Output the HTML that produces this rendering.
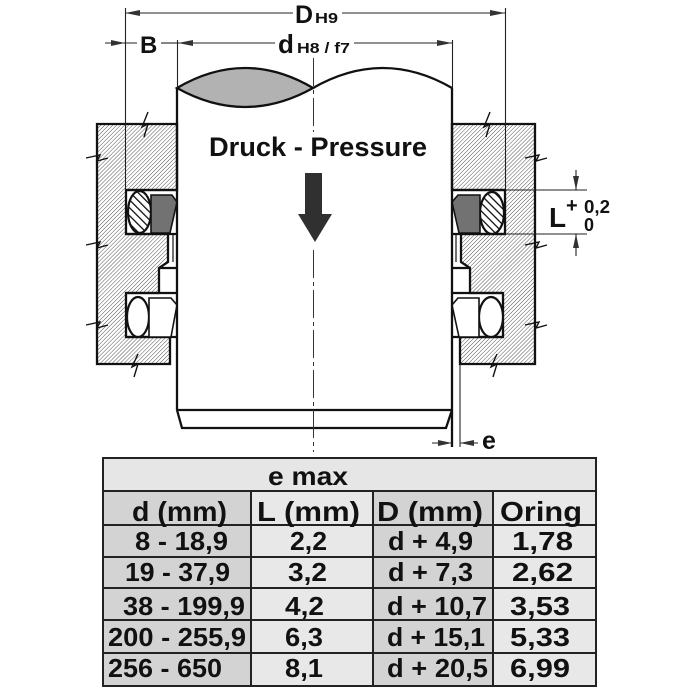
<!DOCTYPE html>
<html><head><meta charset="utf-8"><style>
html,body{margin:0;padding:0;background:#fff;}
svg{display:block;}
text{font-family:"Liberation Sans",Arial,sans-serif;font-weight:bold;fill:#111;}
</style></head><body>
<svg width="700" height="700" viewBox="0 0 700 700" xmlns="http://www.w3.org/2000/svg">
<defs>
<pattern id="hatch" patternUnits="userSpaceOnUse" width="2.8" height="2.8" patternTransform="rotate(45)">
<rect width="2.8" height="2.8" fill="#fff"/><line x1="0" y1="0" x2="0" y2="2.8" stroke="#2a2a2a" stroke-width="0.8"/></pattern>
<pattern id="ring" patternUnits="userSpaceOnUse" width="5.6" height="5.6" patternTransform="rotate(-45)">
<rect width="5.6" height="5.6" fill="#fff"/><line x1="0" y1="0" x2="0" y2="5.6" stroke="#111" stroke-width="2.6"/></pattern>
</defs>
<rect width="700" height="700" fill="#fff"/>

<!-- housings -->
<polygon points="97,124 177,124 177,190 126,190 126,234 168,234 168,262 159,268 159,293 126,293 126,337 170,337 170,364 97,364" fill="url(#hatch)" stroke="#111" stroke-width="2.3"/>
<polygon points="452,124 535,124 535,364 460,364 460,337 503,337 503,293 470,293 470,268 461,262 461,234 505,234 505,190 452,190" fill="url(#hatch)" stroke="#111" stroke-width="2.3"/>

<g stroke="#111" stroke-width="2.3" fill="none">
<line x1="126" y1="190" x2="177" y2="190"/><line x1="126" y1="234" x2="177" y2="234"/>
<line x1="126" y1="293" x2="177" y2="293"/><line x1="126" y1="337" x2="177" y2="337"/>
<line x1="159" y1="268" x2="177" y2="268"/>
<line x1="452" y1="190" x2="505" y2="190"/><line x1="452" y1="234" x2="505" y2="234"/>
<line x1="452" y1="293" x2="503" y2="293"/><line x1="452" y1="337" x2="503" y2="337"/>
<line x1="452" y1="268" x2="470" y2="268"/>
</g>
<line x1="173" y1="234" x2="173" y2="262" stroke="#111" stroke-width="1.2"/>
<line x1="456" y1="234" x2="456" y2="262" stroke="#111" stroke-width="1.2"/>

<!-- seals -->
<ellipse cx="139.5" cy="212" rx="11.5" ry="21" fill="url(#ring)" stroke="#111" stroke-width="2.2"/>
<polygon points="151,195 172,195 177,202 170,233 151,233" fill="#727272" stroke="#111" stroke-width="1.6"/>
<ellipse cx="138" cy="317" rx="11" ry="20" fill="#fff" stroke="#111" stroke-width="2.2"/>
<polygon points="149,298 171,298 177,305 171,337 149,337" fill="#fff" stroke="#111" stroke-width="1.6"/>

<ellipse cx="492" cy="213" rx="12" ry="21" fill="url(#ring)" stroke="#111" stroke-width="2.2"/>
<polygon points="480,195 458,195 452,202 459,233 480,233" fill="#727272" stroke="#111" stroke-width="1.6"/>
<ellipse cx="491" cy="317" rx="12" ry="20" fill="#fff" stroke="#111" stroke-width="2.2"/>
<polygon points="479,298 458,298 452,305 459,337 479,337" fill="#fff" stroke="#111" stroke-width="1.6"/>

<!-- D extension lines -->
<line x1="125.5" y1="8" x2="125.5" y2="190" stroke="#222" stroke-width="1.1"/>
<line x1="505.5" y1="8" x2="505.5" y2="190" stroke="#222" stroke-width="1.1"/>

<!-- break marks -->
<g stroke="#111" stroke-width="1.4" fill="none">
<path d="M148,112 L142,127 L148,124 L144,137"/>
<path d="M490,112 L484,127 L490,124 L486,137"/>
<path d="M86,158 L100,155 L97,161 L108,158"/>
<path d="M86,245 L100,242 L97,248 L108,245"/>
<path d="M86,325 L100,322 L97,328 L108,325"/>
<path d="M525,158 L539,155 L536,161 L547,158"/>
<path d="M525,245 L539,242 L536,248 L547,245"/>
<path d="M525,325 L539,322 L536,328 L547,325"/>
<path d="M138,354 L132,367 L138,364 L134,377"/>
<path d="M497,354 L491,367 L497,364 L493,377"/>
</g>

<!-- shaft -->
<path d="M177,88 Q245,48 313,88 Q245,126 177,88 Z" fill="#b2b2b2" stroke="#111" stroke-width="2.3"/>
<path d="M313,88 Q383,48 452,88" fill="none" stroke="#111" stroke-width="2.3"/>
<line x1="177" y1="88" x2="177" y2="410" stroke="#111" stroke-width="2.3"/>
<line x1="452" y1="88" x2="452" y2="447" stroke="#111" stroke-width="2.3"/>
<line x1="177" y1="410" x2="452" y2="410" stroke="#111" stroke-width="2.3"/>
<polyline points="177,410 182,428 446,428 452,410" fill="none" stroke="#111" stroke-width="2.3"/>

<!-- centerline -->
<line x1="313.5" y1="58" x2="313.5" y2="132" stroke="#333" stroke-width="1" stroke-dasharray="28 4 4 4"/>
<line x1="313.5" y1="250" x2="313.5" y2="452" stroke="#333" stroke-width="1" stroke-dasharray="28 4 4 4"/>

<!-- pressure -->
<text x="209" y="156" font-size="27" textLength="218" lengthAdjust="spacingAndGlyphs">Druck - Pressure</text>
<rect x="305" y="173" width="17" height="42" fill="#303030"/>
<polygon points="298,214 332,214 315,242" fill="#303030"/>

<!-- dimensions -->
<g stroke="#222" stroke-width="1.1">
<line x1="125" y1="13" x2="293" y2="13"/><line x1="342" y1="13" x2="505" y2="13"/>
<line x1="177" y1="43" x2="275" y2="43"/><line x1="354" y1="43" x2="452" y2="43"/>
<line x1="177.5" y1="40" x2="177.5" y2="88"/><line x1="452.5" y1="40" x2="452.5" y2="88"/>
<line x1="105" y1="43" x2="137" y2="43"/><line x1="161" y1="43" x2="177" y2="43"/>
<line x1="505" y1="190" x2="587" y2="190"/><line x1="505" y1="234" x2="587" y2="234"/>
<line x1="576" y1="170" x2="576" y2="190"/><line x1="576" y1="234" x2="576" y2="256"/>
<line x1="460" y1="364" x2="460" y2="447"/>
<line x1="432" y1="443" x2="452" y2="443"/><line x1="460" y1="443" x2="478" y2="443"/>
</g>
<g fill="#333">
<polygon points="125,13 140,10 140,16"/>
<polygon points="505,13 490,10 490,16"/>
<polygon points="178,43 193,40 193,46"/>
<polygon points="452,43 437,40 437,46"/>
<polygon points="125,43 111,40 111,46"/>
<polygon points="576,190 573,176 579,176"/>
<polygon points="576,234 573,248 579,248"/>
<polygon points="452,443 438,440 438,446"/>
<polygon points="460,443 474,440 474,446"/>
</g>
<text x="295" y="23" font-size="25">D</text>
<text x="315" y="23" font-size="15" textLength="23" lengthAdjust="spacingAndGlyphs">H9</text>
<text x="278" y="53" font-size="26">d</text>
<text x="297" y="53" font-size="15" textLength="53" lengthAdjust="spacingAndGlyphs">H8 / f7</text>
<text x="140" y="53" font-size="24">B</text>
<text x="549" y="227" font-size="28">L</text>
<text x="566" y="212" font-size="20">+</text>
<text x="584" y="213" font-size="18" textLength="26" lengthAdjust="spacingAndGlyphs">0,2</text>
<text x="584" y="231" font-size="18">0</text>
<text x="482" y="449" font-size="25">e</text>

<!-- table -->
<rect x="103" y="458" width="493" height="33" fill="#e6e6e6"/>
<rect x="103" y="491" width="148" height="195" fill="#d3d3d3"/>
<rect x="251" y="491" width="122" height="195" fill="#e8e8e8"/>
<rect x="373" y="491" width="120" height="195" fill="#d3d3d3"/>
<rect x="493" y="491" width="103" height="195" fill="#e8e8e8"/>
<g stroke="#222" stroke-width="2" fill="none">
<rect x="103" y="458" width="493" height="228"/>
<line x1="103" y1="491" x2="596" y2="491"/>
<line x1="103" y1="525" x2="596" y2="525"/>
<line x1="103" y1="557" x2="596" y2="557"/>
<line x1="103" y1="588" x2="596" y2="588"/>
<line x1="103" y1="620" x2="596" y2="620"/>
<line x1="103" y1="653" x2="596" y2="653"/>
<line x1="251" y1="491" x2="251" y2="686"/>
<line x1="373" y1="491" x2="373" y2="686"/>
<line x1="493" y1="491" x2="493" y2="686"/>
</g>
<g>
<text x="268" y="485" font-size="26" textLength="80" lengthAdjust="spacingAndGlyphs">e max</text>
<text x="132" y="521" font-size="28" textLength="95" lengthAdjust="spacingAndGlyphs">d (mm)</text>
<text x="257" y="521" font-size="28" textLength="103" lengthAdjust="spacingAndGlyphs">L (mm)</text>
<text x="377" y="521" font-size="28" textLength="106" lengthAdjust="spacingAndGlyphs">D (mm)</text>
<text x="500" y="521" font-size="28" textLength="82" lengthAdjust="spacingAndGlyphs">Oring</text>

<text x="135" y="550" font-size="26" textLength="93" lengthAdjust="spacingAndGlyphs">8 - 18,9</text>
<text x="290" y="550" font-size="26" textLength="37" lengthAdjust="spacingAndGlyphs">2,2</text>
<text x="388" y="550" font-size="26" textLength="85" lengthAdjust="spacingAndGlyphs">d + 4,9</text>
<text x="512" y="550" font-size="26" textLength="61" lengthAdjust="spacingAndGlyphs">1,78</text>

<text x="125" y="581" font-size="26" textLength="105" lengthAdjust="spacingAndGlyphs">19 - 37,9</text>
<text x="288" y="581" font-size="26" textLength="39" lengthAdjust="spacingAndGlyphs">3,2</text>
<text x="388" y="581" font-size="26" textLength="85" lengthAdjust="spacingAndGlyphs">d + 7,3</text>
<text x="512" y="581" font-size="26" textLength="61" lengthAdjust="spacingAndGlyphs">2,62</text>

<text x="123" y="615" font-size="26" textLength="122" lengthAdjust="spacingAndGlyphs">38 - 199,9</text>
<text x="285" y="615" font-size="26" textLength="39" lengthAdjust="spacingAndGlyphs">4,2</text>
<text x="387" y="615" font-size="26" textLength="100" lengthAdjust="spacingAndGlyphs">d + 10,7</text>
<text x="510" y="615" font-size="26" textLength="60" lengthAdjust="spacingAndGlyphs">3,53</text>

<text x="108" y="646" font-size="26" textLength="138" lengthAdjust="spacingAndGlyphs">200 - 255,9</text>
<text x="285" y="646" font-size="26" textLength="38" lengthAdjust="spacingAndGlyphs">6,3</text>
<text x="387" y="646" font-size="26" textLength="98" lengthAdjust="spacingAndGlyphs">d + 15,1</text>
<text x="510" y="646" font-size="26" textLength="60" lengthAdjust="spacingAndGlyphs">5,33</text>

<text x="108" y="677" font-size="26" textLength="114" lengthAdjust="spacingAndGlyphs">256 - 650</text>
<text x="285" y="677" font-size="26" textLength="38" lengthAdjust="spacingAndGlyphs">8,1</text>
<text x="387" y="677" font-size="26" textLength="101" lengthAdjust="spacingAndGlyphs">d + 20,5</text>
<text x="510" y="677" font-size="26" textLength="60" lengthAdjust="spacingAndGlyphs">6,99</text>
</g>
</svg>
</body></html>
